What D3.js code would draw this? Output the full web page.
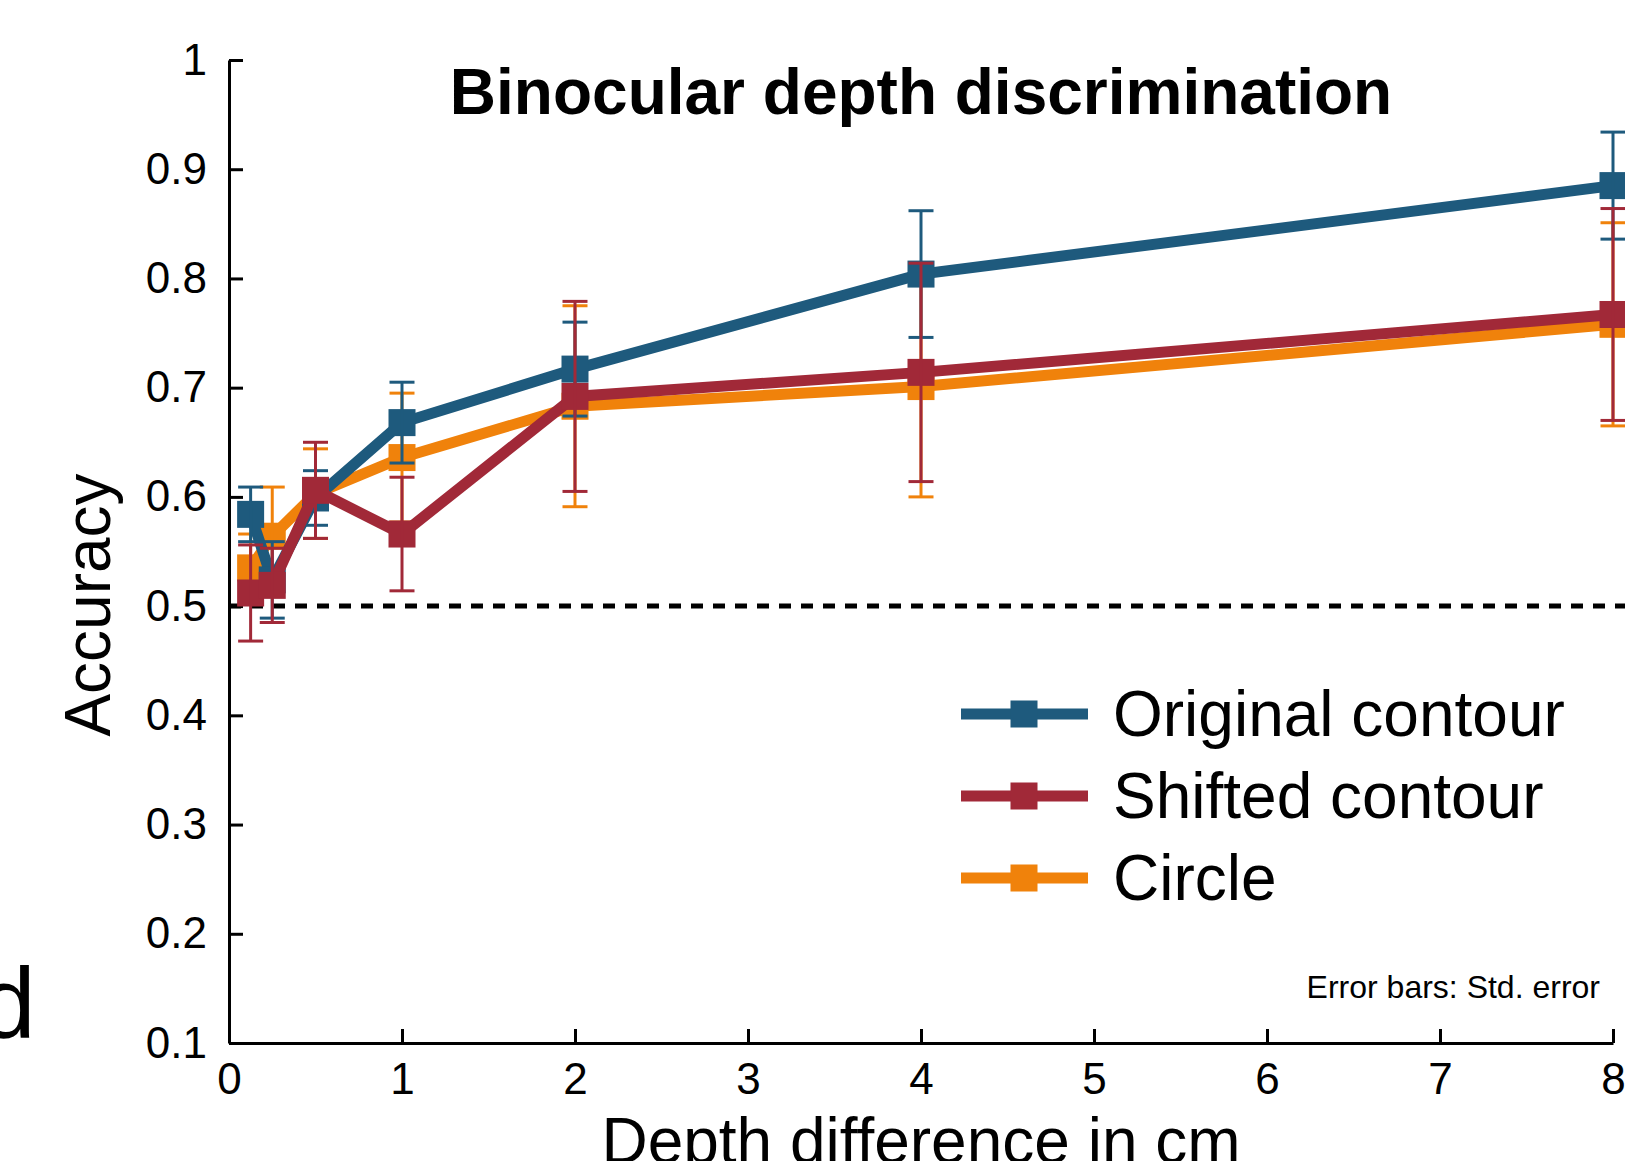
<!DOCTYPE html>
<html>
<head>
<meta charset="utf-8">
<script src="https://cdn.jsdelivr.net/npm/d3@7"></script>
<style>
body { margin: 0; background: #fff; }
svg { display: block; font-family: "Liberation Sans", Arial, sans-serif; }
</style>
</head>
<body>
<svg id="chart" width="1625" height="1161"></svg>
<script>
// depth difference (cm)
var depths = [0.125, 0.25, 0.5, 1, 2, 4, 8];
var originalMean = [0.584, 0.524, 0.599, 0.668, 0.717, 0.804, 0.885];
var originalErr  = [0.025, 0.035, 0.025, 0.037, 0.043, 0.058, 0.049];
var shiftedMean  = [0.512, 0.519, 0.606, 0.566, 0.692, 0.714, 0.767];
var shiftedErr   = [0.044, 0.034, 0.044, 0.052, 0.087, 0.100, 0.097];
var circleMean   = [0.535, 0.564, 0.603, 0.636, 0.683, 0.701, 0.758];
var circleErr    = [0.031, 0.045, 0.041, 0.059, 0.092, 0.101, 0.093];
var seriesNames  = ["Original contour", "Shifted contour", "Circle"];
var xTicks = [0, 1, 2, 3, 4, 5, 6, 7, 8];
var yTicks = [0.1, 0.2, 0.3, 0.4, 0.5, 0.6, 0.7, 0.8, 0.9, 1];
var chance = 0.5;

var colors = {"Original contour": "#1e5a7d", "Shifted contour": "#a12938", "Circle": "#f0820b"};

var svg = d3.select("#chart");
var x = d3.scaleLinear().domain([0, 8]).range([229, 1613]);
var y = d3.scaleLinear().domain([0.1, 1]).range([1043, 60]);

// axes
var yAxis = svg.append("g")
    .attr("transform", "translate(" + x(0) + ",0)")
    .call(d3.axisLeft(y).tickValues(yTicks).tickFormat(d3.format("~g"))
      .tickSizeInner(-14).tickSizeOuter(0).tickPadding(22));
var xAxis = svg.append("g")
    .attr("transform", "translate(0," + y(0.1) + ")")
    .call(d3.axisBottom(x).tickValues(xTicks).tickFormat(d3.format("d"))
      .tickSizeInner(-14).tickSizeOuter(0).tickPadding(20));
[yAxis, xAxis].forEach(function(a) {
  a.selectAll("path, line").attr("stroke", "#000").attr("stroke-width", 3);
  a.selectAll("text").attr("fill", "#000").style("font-size", "44px")
    .style("font-family", "'Liberation Sans', Arial, sans-serif");
});

// chance level
svg.append("line")
    .attr("x1", x(0)).attr("x2", 1625)
    .attr("y1", y(chance)).attr("y2", y(chance))
    .attr("stroke", "#000").attr("stroke-width", 5)
    .attr("stroke-dasharray", "12,10");

var series = [
  {name: "Circle", mean: circleMean, err: circleErr},
  {name: "Original contour", mean: originalMean, err: originalErr},
  {name: "Shifted contour", mean: shiftedMean, err: shiftedErr}
];

var line = d3.line()
    .x(function(d) { return x(d.x); })
    .y(function(d) { return y(d.m); });

series.forEach(function(s) {
  var pts = depths.map(function(d, i) { return {x: d, m: s.mean[i], e: s.err[i]}; });
  var c = colors[s.name];
  var g = svg.append("g");
  g.append("path").datum(pts)
      .attr("d", line).attr("fill", "none")
      .attr("stroke", c).attr("stroke-width", 11).attr("stroke-linejoin", "miter");
  g.selectAll("rect").data(pts).enter().append("rect")
      .attr("x", function(d) { return x(d.x) - 13.5; })
      .attr("y", function(d) { return y(d.m) - 13.5; })
      .attr("width", 27).attr("height", 27).attr("fill", c);
  var eb = g.selectAll("g.eb").data(pts).enter().append("g").attr("class", "eb")
      .attr("stroke", c).attr("stroke-width", 3);
  eb.append("line")
      .attr("x1", function(d) { return x(d.x); }).attr("x2", function(d) { return x(d.x); })
      .attr("y1", function(d) { return y(d.m - d.e); }).attr("y2", function(d) { return y(d.m + d.e); });
  eb.append("line")
      .attr("x1", function(d) { return x(d.x) - 12.5; }).attr("x2", function(d) { return x(d.x) + 12.5; })
      .attr("y1", function(d) { return y(d.m + d.e); }).attr("y2", function(d) { return y(d.m + d.e); });
  eb.append("line")
      .attr("x1", function(d) { return x(d.x) - 12.5; }).attr("x2", function(d) { return x(d.x) + 12.5; })
      .attr("y1", function(d) { return y(d.m - d.e); }).attr("y2", function(d) { return y(d.m - d.e); });
});

// legend
var legend = svg.append("g");
seriesNames.forEach(function(name, i) {
  var ly = 714 + i * 82;
  legend.append("line").attr("x1", 961).attr("x2", 1088).attr("y1", ly).attr("y2", ly)
      .attr("stroke", colors[name]).attr("stroke-width", 11);
  legend.append("rect").attr("x", 1024 - 13.5).attr("y", ly - 13.5)
      .attr("width", 27).attr("height", 27).attr("fill", colors[name]);
  legend.append("text").attr("x", 1113).attr("y", ly + 22)
      .style("font-size", "64px").text(name);
});

// texts
svg.append("text").attr("x", 921).attr("y", 114).attr("text-anchor", "middle")
    .style("font-size", "64px").style("font-weight", "bold")
    .text("Binocular depth discrimination");
svg.append("text").attr("x", 1600).attr("y", 998).attr("text-anchor", "end")
    .style("font-size", "32px").text("Error bars: Std. error");
svg.append("text").attr("x", 921).attr("y", 1163).attr("text-anchor", "middle")
    .style("font-size", "64px").text("Depth difference in cm");
svg.append("text").attr("transform", "translate(110,605) rotate(-90)")
    .attr("text-anchor", "middle").style("font-size", "64px").text("Accuracy");
svg.append("text").attr("x", -20).attr("y", 1038)
    .style("font-size", "100px").text("d");
</script>
</body>
</html>
